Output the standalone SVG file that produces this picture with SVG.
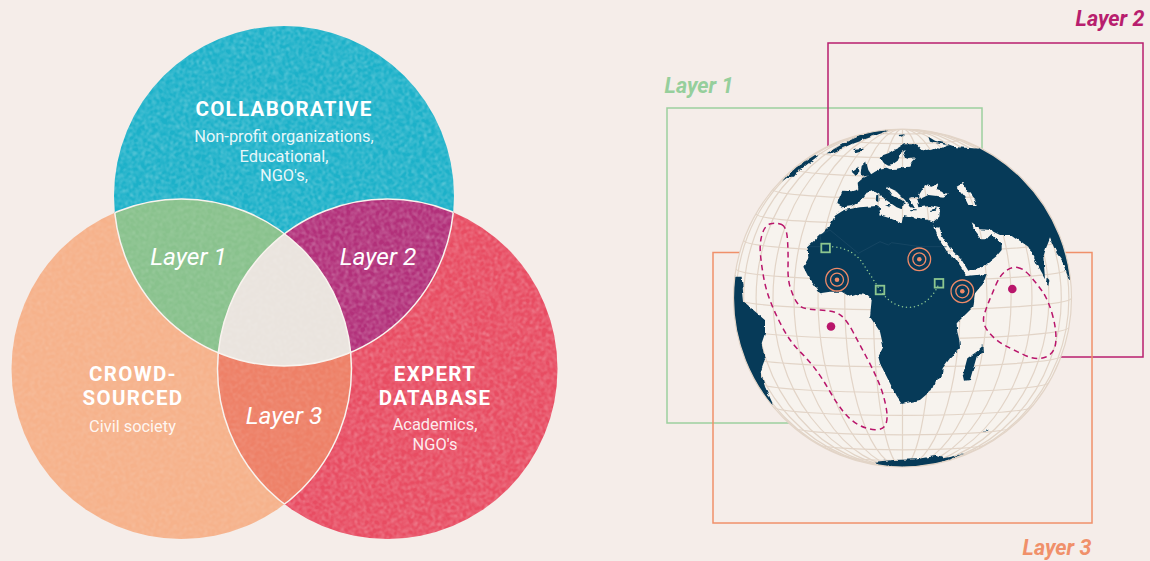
<svg xmlns="http://www.w3.org/2000/svg" width="1150" height="561" viewBox="0 0 1150 561">
<style>
text{font-family:Roboto,"Liberation Sans",sans-serif;fill:#fff;text-anchor:middle}
.h{font-size:20.500px;font-weight:700;letter-spacing:1.300px}
.s{font-size:16.400px;fill-opacity:.9}
.l{font-size:24.500px;font-style:italic}
.c{font-size:21.500px;font-style:italic;font-weight:700}
.fr{fill:none;stroke-width:1.5}
.g{fill:none;stroke:#e2d4c7;stroke-width:1.2}
.land{fill:#063a58}
.rt{fill:none;stroke:#b9156b;stroke-width:4.5;stroke-dasharray:17 12}
.tg{fill:none;stroke:#ef8a68;stroke-width:1.3}
.sq{fill:none;stroke:#8cc68f;stroke-width:1.8}
.edge{fill:none;stroke:#f8f3ee;stroke-width:1.5}
</style>
<defs>
<filter id="grainA" filterUnits="userSpaceOnUse" x="0" y="0" width="600" height="561" color-interpolation-filters="sRGB">
<feTurbulence type="fractalNoise" baseFrequency="0.55" numOctaves="3" seed="4"/>
<feGaussianBlur stdDeviation="0.8"/>
<feColorMatrix values="0 0 0 0 1 0 0 0 0 1 0 0 0 0 1 1.6 0 0 0 -0.72"/>
<feComposite in2="SourceAlpha" operator="in" result="n"/>
<feMerge><feMergeNode in="SourceGraphic"/><feMergeNode in="n"/></feMerge>
</filter>
<filter id="grainB" filterUnits="userSpaceOnUse" x="0" y="0" width="600" height="561" color-interpolation-filters="sRGB">
<feTurbulence type="fractalNoise" baseFrequency="0.55" numOctaves="3" seed="9"/>
<feGaussianBlur stdDeviation="0.8"/>
<feColorMatrix values="0 0 0 0 1 0 0 0 0 1 0 0 0 0 1 0.8 0 0 0 -0.36"/>
<feComposite in2="SourceAlpha" operator="in" result="n"/>
<feMerge><feMergeNode in="SourceGraphic"/><feMergeNode in="n"/></feMerge>
</filter>
<filter id="rough" filterUnits="userSpaceOnUse" x="-200" y="-200" width="1600" height="1500" color-interpolation-filters="sRGB">
<feTurbulence type="fractalNoise" baseFrequency="0.05" numOctaves="3" seed="7" result="t"/>
<feDisplacementMap in="SourceGraphic" in2="t" scale="11" xChannelSelector="R" yChannelSelector="G"/>
</filter>
<clipPath id="cT"><circle cx="284" cy="196" r="170"/></clipPath>
<clipPath id="cL"><circle cx="181.5" cy="369" r="170"/></clipPath>
<clipPath id="cR"><circle cx="387.5" cy="369" r="170"/></clipPath>
<clipPath id="cLR" clip-path="url(#cR)"><circle cx="181.5" cy="369" r="170"/></clipPath>
<clipPath id="uLR"><circle cx="181.5" cy="369" r="170"/><circle cx="387.5" cy="369" r="170"/></clipPath>
<clipPath id="uTR"><circle cx="284" cy="196" r="170"/><circle cx="387.5" cy="369" r="170"/></clipPath>
<clipPath id="uTL"><circle cx="284" cy="196" r="170"/><circle cx="181.5" cy="369" r="170"/></clipPath>
<clipPath id="globe"><circle cx="902.5" cy="298" r="169"/></clipPath>
</defs>
<rect width="1150" height="561" fill="#f5ede9"/>
<g id="venn">
<circle cx="284" cy="196" r="170" fill="#1cb1c9" filter="url(#grainA)"/>
<circle cx="181.5" cy="369" r="170" fill="#f6b28b" filter="url(#grainB)"/>
<circle cx="387.5" cy="369" r="170" fill="#e84c62" filter="url(#grainA)"/>
<g clip-path="url(#cL)"><circle cx="284" cy="196" r="170" fill="#89c28d" filter="url(#grainB)"/></g>
<g clip-path="url(#cR)"><circle cx="284" cy="196" r="170" fill="#b2307a" filter="url(#grainA)"/></g>
<g clip-path="url(#cR)"><circle cx="181.5" cy="369" r="170" fill="#ee8067" filter="url(#grainB)"/></g>
<g clip-path="url(#cLR)"><circle cx="284" cy="196" r="170" fill="#eae4de" filter="url(#grainB)"/></g>
<circle class="edge" cx="284" cy="196" r="170" clip-path="url(#uLR)"/>
<circle class="edge" cx="181.5" cy="369" r="170" clip-path="url(#uTR)"/>
<circle class="edge" cx="387.5" cy="369" r="170" clip-path="url(#uTL)"/>
</g>
<g id="node-collaborative">
<text class="h" x="284" y="115.500">COLLABORATIVE</text>
<text class="s" x="284" y="141.500">Non-profit organizations,</text>
<text class="s" x="284" y="161.500">Educational,</text>
<text class="s" x="284" y="181">NGO's,</text>
</g>
<g id="node-crowd">
<text class="h" x="133" y="380.500">CROWD-</text>
<text class="h" x="133" y="404.500">SOURCED</text>
<text class="s" x="132.500" y="431.500">Civil society</text>
</g>
<g id="node-expert">
<text class="h" x="435" y="380.500">EXPERT</text>
<text class="h" x="435" y="404.500">DATABASE</text>
<text class="s" x="435" y="430">Academics,</text>
<text class="s" x="435" y="450">NGO's</text>
</g>
<g id="node-layer1"><text class="l" x="188.500" y="265">Layer 1</text></g>
<g id="node-layer2"><text class="l" x="378" y="265">Layer 2</text></g>
<g id="node-layer3"><text class="l" x="284" y="424">Layer 3</text></g>

<g id="frame-layer1">
<rect class="fr" x="667" y="108" width="315" height="315" stroke="#9ccf9e"/>
<text class="c" x="699" y="93" style="fill:#96cf9c">Layer 1</text>
</g>
<g id="frame-layer2">
<rect class="fr" x="828" y="43" width="315" height="314" stroke="#b81e6e"/>
<text class="c" x="1110" y="26" style="fill:#b81e6e">Layer 2</text>
</g>
<g id="frame-layer3">
<rect class="fr" x="713" y="252.500" width="379" height="270.500" stroke="#f0906a"/>
<text class="c" x="1057" y="555" style="fill:#f0906a">Layer 3</text>
</g>

<g id="globe-map">
<circle cx="902.500" cy="298" r="169" fill="#f7f3ee"/>
<g clip-path="url(#globe)">
<g id="graticule">
<path class="g" d="M902.500 129V467"/>
<ellipse class="g" cx="902.500" cy="298" rx="29.300" ry="169"/>
<ellipse class="g" cx="902.500" cy="298" rx="57.800" ry="169"/>
<ellipse class="g" cx="902.500" cy="298" rx="84.500" ry="169"/>
<ellipse class="g" cx="902.500" cy="298" rx="108.600" ry="169"/>
<ellipse class="g" cx="902.500" cy="298" rx="129.500" ry="169"/>
<ellipse class="g" cx="902.500" cy="298" rx="146.400" ry="169"/>
<ellipse class="g" cx="902.500" cy="298" rx="158.800" ry="169"/>
<ellipse class="g" cx="902.500" cy="298" rx="166.400" ry="169"/>
<path class="g" d="M733.500 298A169 11.800 0 0 0 1071.500 298
M736.100 268.700A166.400 11.600 0 0 0 1068.900 268.700
M743.700 240.300A158.800 11.100 0 0 0 1061.300 240.300
M756.100 213.700A146.400 10.200 0 0 0 1048.900 213.700
M773 189.600A129.500 9 0 0 0 1032 189.600
M793.900 168.800A108.600 7.600 0 0 0 1011.100 168.800
M818 152A84.500 5.900 0 0 0 987 152
M844.700 139.600A57.800 4 0 0 0 960.300 139.600
M873.200 132A29.300 2 0 0 0 931.800 132
M736.100 327.300A166.400 11.600 0 0 0 1068.900 327.300
M743.700 355.700A158.800 11.100 0 0 0 1061.300 355.700
M756.100 382.300A146.400 10.200 0 0 0 1048.900 382.300
M773 406.400A129.500 9 0 0 0 1032 406.400
M793.900 427.200A108.600 7.600 0 0 0 1011.100 427.200
M818 444A84.500 5.900 0 0 0 987 444
M844.700 456.400A57.800 4 0 0 0 960.300 456.400
M873.200 464A29.300 2 0 0 0 931.800 464"/>
</g>
<g transform="translate(720 120) scale(.33333)">
<g filter="url(#rough)">
<path class="land" fill-rule="evenodd" d="M352,252L355,240L367,212L395,214L415,208L413,188L425,178L445,168L465,155L485,145L500,143L510,148L530,146L550,142L568,140L575,125L585,115L565,117L555,113L548,98L558,90L545,95L540,108L533,122L515,135L505,137L492,130L482,115L490,105L505,100L520,90L535,83L555,70L575,70L595,77L607,90L620,93L635,90L650,85L665,87L680,78L705,78L712,82L1000,100L1120,400L1060,490L1048,480L1040,460L1025,420L1010,400L990,355L978,385L970,410L975,475L950,430L925,380L875,345L840,345L820,335L815,330L780,328L755,310L765,335L780,355L805,355L815,345L835,365L845,370L845,390L830,408L790,440L745,452L725,420L690,385L665,345L658,320L650,328L640,315L655,355L680,395L705,415L730,450L738,468L800,462L790,490L765,520L760,560L710,610L712,635L718,660L720,685L690,715L668,745L665,770L645,785L635,810L600,840L545,852L530,830L510,790L480,730L475,710L490,680L480,635L450,590L455,540L440,525L415,522L390,530L365,515L330,515L300,520L270,480L250,440L265,415L263,380L300,345L330,315L345,287L372,270L420,262L470,258L480,265L478,285L510,295L545,310L550,285L575,290L615,298L640,305L658,290L660,265L630,258L595,262L590,240L600,232L575,232L570,240L585,265L570,262L555,240L530,215L498,200L515,225L545,240L555,248L548,250L545,268L530,262L495,238L480,222L465,212L440,218L420,245L395,258L368,262Z
M597,225L615,195L635,200L655,190L650,210L685,222L670,230L625,225L605,235Z
M710,200L730,188L740,210L765,240L770,255L745,255L735,235L720,215Z"/>
<path class="land" d="M400,87L430,83L430,90L405,97Z
M425,135L438,123L445,150L455,165L430,170L422,160Z
M395,155L415,140L418,155L405,165Z
M320,100L380,65L460,30L505,32L470,45L400,70L335,100Z
M185,185L215,150L285,105L295,107L240,150L225,170L205,170Z
M535,45L555,43L545,50Z
M625,50L645,62L675,70L710,82L690,78L650,70L630,65Z
M495,255L515,255L510,262Z
M472,222L478,222L478,245L470,245Z
M570,270L590,271L590,274L572,274Z
M630,270L650,265L648,272L632,274Z
M790,675L792,700L770,710L750,780L735,782L730,760L742,715L770,695Z
M980,472L988,480L985,498L978,490Z
M65,470L72,545L100,570L135,600L135,640L125,670L135,720L122,755L135,800L160,855L100,810L0,610L0,470Z
M465,1025L520,1020L590,1018L650,1007L670,1015L730,1002L650,1032L540,1045L480,1035Z
M792,934L802,930L800,936Z"/>
</g>
<path fill="none" stroke="#1c4c68" stroke-width="2" d="M265,380H300M300,345L305,378M300,345L330,330L415,400L480,365L505,375L515,368L600,380H680"/>
</g>
</g>
<circle class="g" cx="902.500" cy="298" r="169"/>
<g id="connectors" transform="translate(720 120) scale(.33333)">
<path class="rt" d="M185,313.500Q200,320 202.500,360Q205,400 204,440Q203,480 211.500,505Q220,530 227.500,542.500Q235,555 245,561.500Q255,568 300,570Q345,572 362.500,586Q380,600 400,637.500Q420,675 440,712.500Q460,750 475,785Q490,820 497.500,857.500Q505,895 497.500,912.500Q490,930 465,929Q440,928 415,914Q390,900 370,875Q350,850 330,815Q310,780 290,752.500Q270,725 240,695Q210,665 187.500,622.500Q165,580 151.500,545Q138,510 131.500,475Q125,440 121.500,405Q118,370 126.500,342.500Q135,315 152.500,311Q170,307 185,313.500Z"/>
<path class="rt" d="M892.500,442.500Q910,445 930,467.500Q950,490 967.500,515Q985,540 997.500,585Q1010,630 1007.500,665Q1005,700 977.500,711Q950,722 915,706Q880,690 852.500,675Q825,660 805,635Q785,610 792.500,585Q800,560 807.500,542.500Q815,525 827.500,495Q840,465 857.500,452.500Q875,440 892.500,442.500Z"/>
<path fill="none" stroke="#8cc68f" stroke-width="4.500" stroke-linecap="round" stroke-dasharray="0 12" d="M338,380C385,385 410,405 425,425L480,510C500,540 530,562 565,562C610,562 645,525 657,489"/>
</g>
<g id="markers">
<circle cx="831" cy="326.500" r="4.300" fill="#b9156b"/>
<circle cx="1012.300" cy="289" r="4.300" fill="#b9156b"/>
<rect class="sq" x="821.300" y="243.700" width="8.600" height="8.600"/>
<rect class="sq" x="875.700" y="285.700" width="8.600" height="8.600"/>
<rect class="sq" x="934.700" y="279" width="8.600" height="8.600"/>
<g id="t1"><circle class="tg" cx="837" cy="279.700" r="11.300"/><circle class="tg" cx="837" cy="279.700" r="6.500"/><circle cx="837" cy="279.700" r="2.300" fill="#ef8a68"/></g>
<g id="t2"><circle class="tg" cx="919.300" cy="259.300" r="11.300"/><circle class="tg" cx="919.300" cy="259.300" r="6.500"/><circle cx="919.300" cy="259.300" r="2.300" fill="#ef8a68"/></g>
<g id="t3"><circle class="tg" cx="962.300" cy="291.300" r="11.300"/><circle class="tg" cx="962.300" cy="291.300" r="6.500"/><circle cx="962.300" cy="291.300" r="2.300" fill="#ef8a68"/></g>
</g>
</g>
</svg>
